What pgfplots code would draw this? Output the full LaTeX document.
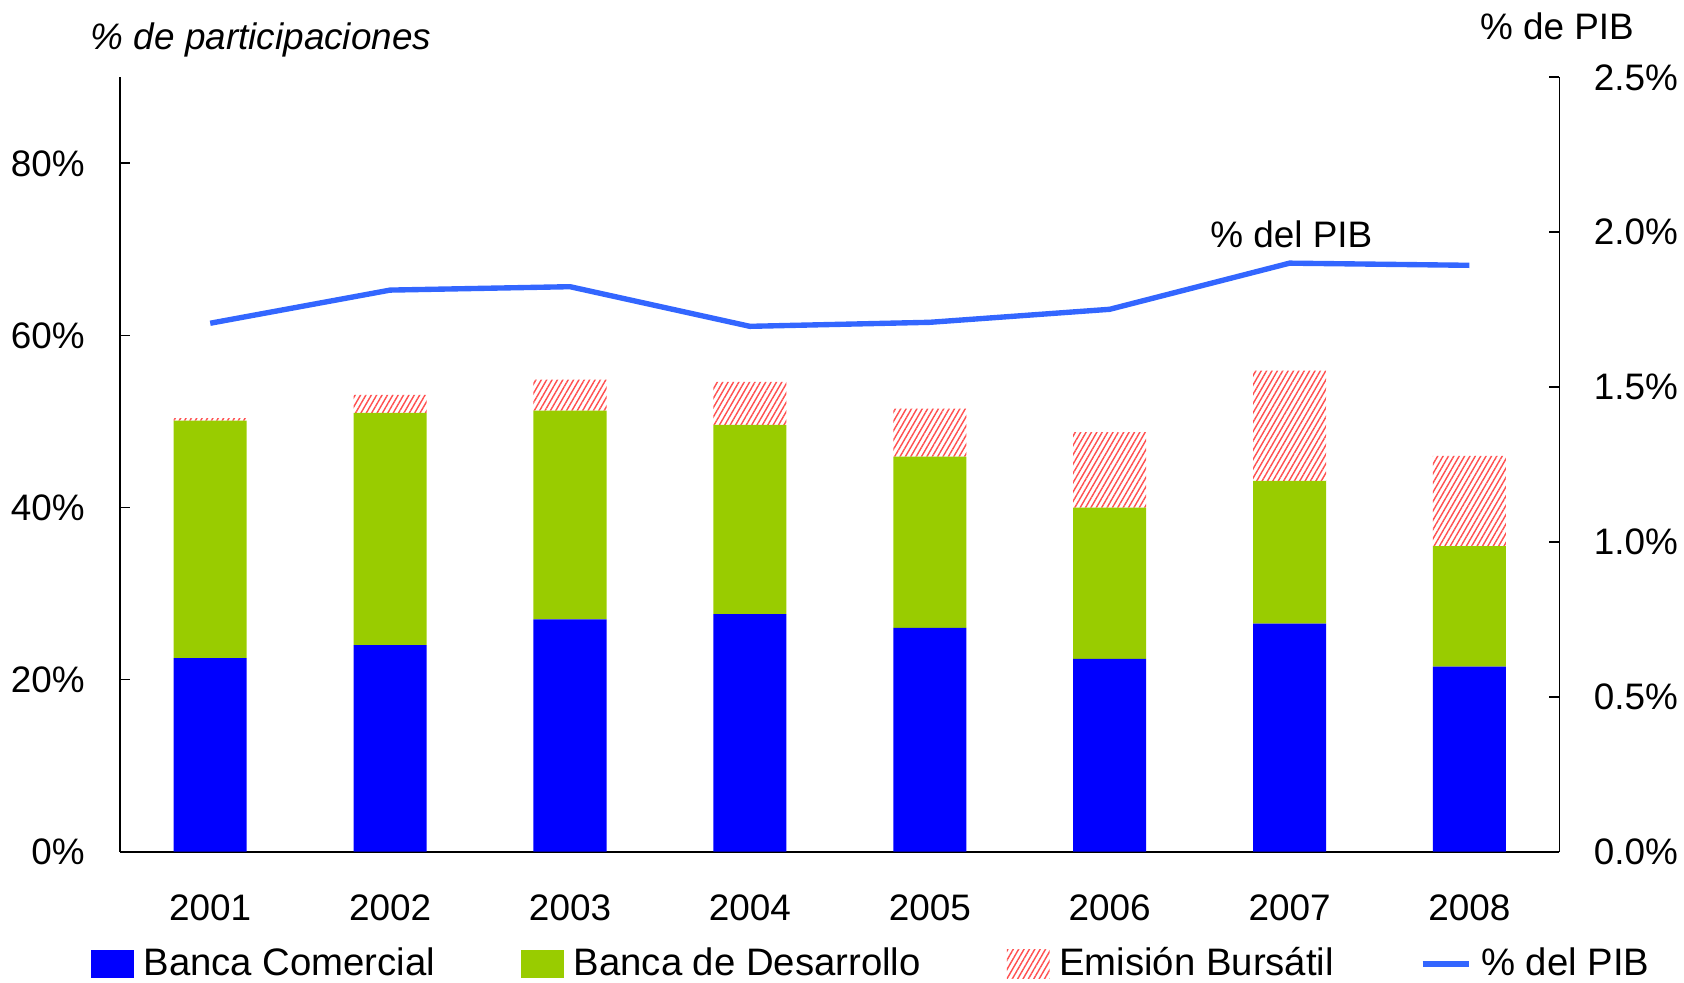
\documentclass[border=0pt]{standalone}
\usepackage{fontspec}
\setmainfont{Liberation Sans}
\usepackage{pgfplots}
\pgfplotsset{compat=1.18}
\usetikzlibrary{patterns.meta}

\definecolor{bcom}{RGB}{0,0,255}
\definecolor{bdes}{RGB}{153,204,0}
\definecolor{emis}{RGB}{255,80,80}
\definecolor{pib}{RGB}{51,102,255}

\begin{document}
\fontsize{10.3}{12}\selectfont
\begin{tikzpicture}
\pgfplotsset{
  base/.style={
    width=402pt, height=216.3pt, scale only axis,
    xmin=0.5, xmax=8.5,
    tick align=inside, major tick length=2.8pt,
    /pgf/number format/assume math mode=true,
    axis line style={line width=0.5pt},
    tick style={line width=0.5pt, black},
  },
}
\begin{axis}[
  base,
  ybar stacked, bar width=20.4pt,
  ymin=0, ymax=90,
  axis y line*=left, axis x line*=bottom,
  xtick={1,...,8},
  xticklabels={2001,2002,2003,2004,2005,2006,2007,2008},
  x tick style={draw=none},
  xticklabel style={yshift=-8.3pt},
  ytick={0,20,40,60,80},
  yticklabel={\pgfmathprintnumber{\tick}\%},
  yticklabel style={xshift=-6.3pt},
  ylabel={\itshape\% de participaciones},
  ylabel style={rotate=-90, at={(rel axis cs:0,1)}, anchor=base west,
    xshift=-8.4pt, yshift=7.8pt, inner sep=0pt},
  legend columns=4,
  legend style={at={(rel axis cs:0,0)}, anchor=west, xshift=-8.4pt, yshift=-31.4pt,
    draw=none, inner sep=0pt, font=\fontsize{10.7}{12}\selectfont,
    nodes={inner sep=0pt, anchor=west},
    /tikz/every odd column/.append style={column sep=2.7pt},
    /tikz/every even column/.append style={column sep=24pt}},
]
\addplot[fill=bcom, draw=none,
  legend image code/.code={\path[fill=bcom] (0pt,-4pt) rectangle (12pt,4pt);}]
  coordinates {(1,22.5) (2,24.0) (3,27.0) (4,27.6) (5,26.0) (6,22.4) (7,26.5) (8,21.5)};
\addlegendentry{Banca Comercial}
\addplot[fill=bdes, draw=none,
  legend image code/.code={\path[fill=bdes] (0pt,-4pt) rectangle (12pt,4pt);}]
  coordinates {(1,27.6) (2,27.0) (3,24.25) (4,22.0) (5,19.9) (6,17.6) (7,16.6) (8,14.0)};
\addlegendentry{Banca de Desarrollo}
\addplot[draw=none, pattern={Lines[angle=60,distance=1.3pt,line width=0.4pt]}, pattern color=emis,
  legend image code/.code={\path[pattern={Lines[angle=60,distance=1.3pt,line width=0.4pt]}, pattern color=emis] (0pt,-4pt) rectangle (12pt,4pt);}]
  coordinates {(1,0.3) (2,2.1) (3,3.6) (4,5.0) (5,5.6) (6,8.75) (7,12.8) (8,10.5)};
\addlegendentry{Emisión Bursátil}
\addlegendimage{legend image code/.code={\draw[pib, line width=1.5pt] (0pt,0pt) -- (12.9pt,0pt);}}
\addlegendentry{\% del PIB}
\end{axis}

\begin{axis}[
  base,
  ymin=0, ymax=2.5,
  axis y line*=right, axis x line=none,
  ytick={0,0.5,...,2.5},
  yticklabel={\pgfmathprintnumber[fixed,fixed zerofill,precision=1]{\tick}\%},
  yticklabel style={xshift=6pt},
  ylabel={\% de PIB},
  ylabel style={rotate=-90, at={(rel axis cs:1,1)}, anchor=base east,
    xshift=21pt, yshift=10.5pt, inner sep=0pt},
]
\addplot[pib, line width=1.5pt, mark=none]
  coordinates {(1,1.706) (2,1.813) (3,1.824) (4,1.696) (5,1.709) (6,1.751) (7,1.900) (8,1.893)};
\node at (axis cs:7.01,1.994) {\% del PIB};
\end{axis}

\pgfresetboundingbox
\path[use as bounding box] (-33.6pt,-36.5pt) rectangle (436.8pt,237.9pt);
\end{tikzpicture}
\end{document}
